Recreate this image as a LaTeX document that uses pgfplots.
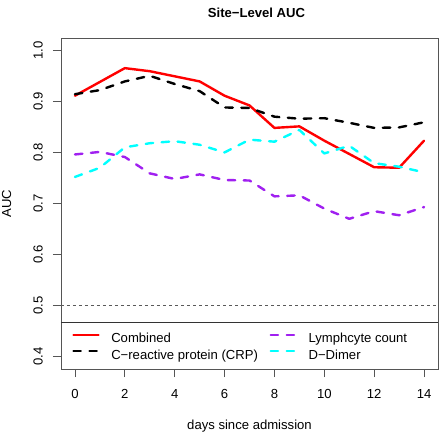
\documentclass[border=0pt]{standalone}
\usepackage{pgfplots}
\pgfplotsset{compat=1.18}
\usepackage{fontspec}
\setmainfont{Liberation Sans}
\definecolor{rpurple}{HTML}{A020F0}
\definecolor{rcyan}{HTML}{00FFFF}
\definecolor{rred}{HTML}{FF0000}
\definecolor{framecol}{HTML}{555555}
\newcommand{\rfont}{\fontsize{13.15pt}{16pt}\selectfont}
\begin{document}
\begin{tikzpicture}
\path[use as bounding box] (-61bp,-64bp) rectangle (379bp,369bp);
\begin{axis}[
  scale only axis, width=377bp, height=331bp,
  at={(0,0)}, anchor=south west,
  xmin=-0.56, xmax=14.56, ymin=0.376, ymax=1.024,
  xtick={0,2,4,6,8,10,12,14},
  xticklabels={0,2,4,6,8,10,12,14},
  ytick={0.4,0.5,0.6,0.7,0.8,0.9,1.0},
  yticklabels={0.4,0.5,0.6,0.7,0.8,0.9,1.0},
  xtick pos=left, ytick pos=left,
  tick align=outside, major tick length=8bp,
  tick style={framecol, line width=0.8bp},
  axis line style={framecol, line width=0.8bp},
  /pgf/number format/assume math mode=true,
  every tick label/.append style={font=\rfont, inner sep=0pt},
  xticklabel style={anchor=base, yshift=-21.3bp},
  yticklabel style={xshift=-10.3bp, rotate=90, anchor=base},
  title={\textbf{Site−Level AUC}},
  title style={font=\rfont, at={(axis description cs:0.5,1)}, anchor=base, inner sep=0pt, yshift=14.3bp, xshift=7bp},
  xlabel={days since admission},
  xlabel style={font=\rfont, at={(axis description cs:0.5,0)}, anchor=base, inner sep=0pt, yshift=-60.3bp},
  ylabel={AUC},
  ylabel style={font=\rfont, at={(axis description cs:-0.1326,0.5)}, anchor=base, inner sep=0pt},
  legend columns=2,
  legend cell align=left,
  legend style={draw=none, fill=none, at={(axis cs:-0.108,0.4469)}, anchor=north west,
    inner sep=0pt, outer sep=0pt, column sep=11.6bp, row sep=3.3bp, font=\rfont,
    nodes={inner sep=0pt, text height=10bp, text depth=3bp}},
  legend image code/.code={\draw[#1, line width=2bp] (0bp,4.65bp) -- (25.4bp,4.65bp);},
  every axis plot/.append style={line width=2.4bp, line cap=round, line join=round},
]
\addplot[rred] coordinates {
(0,0.911) (1,0.938) (2,0.965) (3,0.959) (4,0.949) (5,0.939) (6,0.911) (7,0.892)
(8,0.848) (9,0.851) (10,0.823) (11,0.797) (12,0.771) (13,0.770) (14,0.823)};
\addlegendentry{Combined}
\addplot[rpurple, dash pattern=on 7.5bp off 8.5bp] coordinates {
(0,0.796) (1,0.801) (2,0.791) (3,0.759) (4,0.748) (5,0.757) (6,0.746) (7,0.745)
(8,0.714) (9,0.716) (10,0.690) (11,0.670) (12,0.685) (13,0.677) (14,0.693)};
\addlegendentry{Lymphcyte count}
\addplot[black, dash pattern=on 7.5bp off 8.5bp] coordinates {
(0,0.914) (1,0.922) (2,0.939) (3,0.950) (4,0.934) (5,0.920) (6,0.888) (7,0.887)
(8,0.870) (9,0.866) (10,0.867) (11,0.858) (12,0.848) (13,0.849) (14,0.859)};
\addlegendentry{C−reactive protein (CRP)}
\addplot[rcyan, dash pattern=on 7.5bp off 8.5bp] coordinates {
(0,0.752) (1,0.770) (2,0.810) (3,0.818) (4,0.822) (5,0.815) (6,0.800) (7,0.825)
(8,0.821) (9,0.844) (10,0.798) (11,0.813) (12,0.779) (13,0.772) (14,0.761)};
\addlegendentry{D−Dimer}
\addplot[black!65, line width=0.9bp, line cap=butt, dash pattern=on 3bp off 3bp, forget plot] coordinates {(-0.56,0.5) (14.56,0.5)};
\draw[black!80, line width=1bp] (axis cs:-0.56,0.468) -- (axis cs:14.56,0.468);
\end{axis}
\end{tikzpicture}
\end{document}
